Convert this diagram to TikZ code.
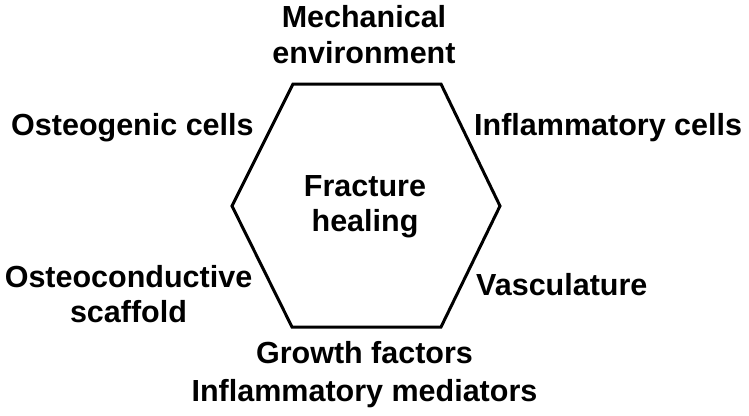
\documentclass[tikz,border=0pt]{standalone}
\usepackage{fontspec}
\setmainfont{Liberation Sans}
\begin{document}
\begin{tikzpicture}[x=1pt,y=-1pt,
  lbl/.style={inner sep=0pt, font=\bfseries\fontsize{30.5}{36}\selectfont, align=center},
  hexline/.style={line width=3pt, line join=miter, black}]
\useasboundingbox (0,0) rectangle (749,415);
\coordinate (tl) at (293,84);
\coordinate (tr) at (441,84);
\coordinate (r) at (500,206);
\coordinate (br) at (441,327);
\coordinate (bl) at (292,327);
\coordinate (l) at (232,206);
\draw[hexline] (tl) -- (tr) -- (r) -- (br) -- (bl) -- (l) -- cycle;
\node[lbl, anchor=north] (mech) at (364,5.5) {Mechanical\\environment};
\node[lbl, anchor=base west] (osteo) at (11,135) {Osteogenic cells};
\node[lbl, anchor=base west] (inflc) at (474,135) {Inflammatory cells};
\node[lbl, anchor=north, font=\bfseries\fontsize{30.5}{35}\selectfont] (frac) at (365,175.5) {Fracture\\healing};
\node[lbl, anchor=north, font=\bfseries\fontsize{30.5}{35}\selectfont] (scaf) at (128.5,265.5) {Osteoconductive\\scaffold};
\node[lbl, anchor=base west] (vasc) at (476,295) {Vasculature};
\node[lbl, anchor=north, font=\bfseries\fontsize{30.5}{38}\selectfont] (grow) at (364.5,341.5) {Growth factors\\Inflammatory mediators};
\end{tikzpicture}
\end{document}
